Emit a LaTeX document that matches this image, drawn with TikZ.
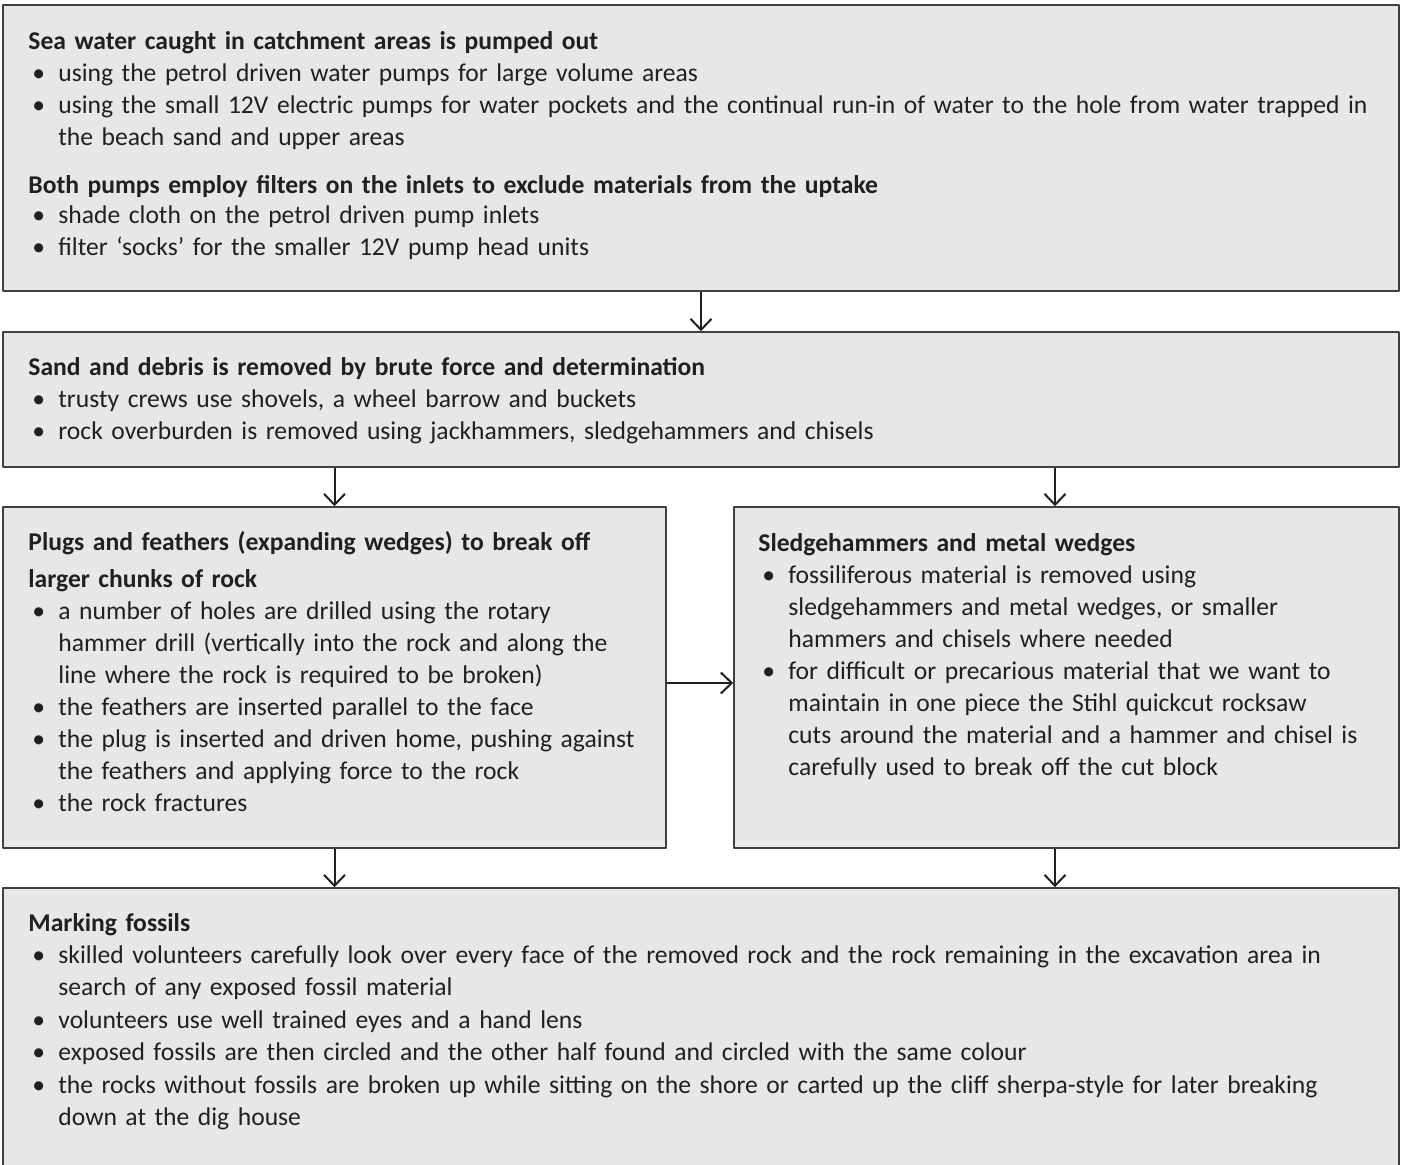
\documentclass[tikz,border=0pt]{standalone}
\usepackage{fontspec}
\setmainfont{Carlito}
\usetikzlibrary{arrows.meta,fit}
\definecolor{boxfill}{HTML}{E6E7E8}
\definecolor{boxline}{HTML}{404041}
\definecolor{ink}{HTML}{231F20}
\newcommand\bul{\makebox[15pt][l]{\hspace{2pt}\textbullet}}
\newcommand\ind{\hspace*{15pt}}
\begin{document}
\begin{tikzpicture}[x=0.5pt, y=-0.5pt, line join=round, >={Straight Barb[length=5.5pt,width=10.5pt]},
    box/.style={draw=boxline, fill=boxfill, line width=0.75pt, inner sep=0pt},
    txt/.style={anchor=base west, inner sep=0pt, text width=690pt, align=left, text=ink,
      font=\fontsize{12.8}{16}\selectfont},
    flow/.style={->, draw=ink, line width=1pt}]
  \useasboundingbox (0,0) rectangle (1401,1165);
  % boxes
  \node[box, fit={(3,5)(1399,291)}] (pump) {};
  \node[box, fit={(3,332)(1399,467)}] (sand) {};
  \node[box, fit={(3,507)(666,848)}] (plugs) {};
  \node[box, fit={(734,507)(1399,848)}] (sledge) {};
  \node[box, fit={(3,888)(1399,1180)}] (marking) {};
  % texts
  \node[txt] (pumptxt) at (28,50) {\textbf{Sea water caught in catchment areas is pumped out}\\
    \bul using the petrol driven water pumps for large volume areas\\
    \bul using the small 12V electric pumps for water pockets and the continual run-in of water to the hole from water trapped in\\
    \ind the beach sand and upper areas\\[8pt]
    \textbf{Both pumps employ filters on the inlets to exclude materials from the uptake}\\[-1pt]
    \bul shade cloth on the petrol driven pump inlets\\
    \bul filter ‘socks’ for the smaller 12V pump head units};
  \node[txt] (sandtxt) at (28,376) {\textbf{Sand and debris is removed by brute force and determination}\\
    \bul trusty crews use shovels, a wheel barrow and buckets\\
    \bul rock overburden is removed using jackhammers, sledgehammers and chisels};
  \node[txt] (plugstxt) at (28,550) {\textbf{Plugs and feathers (expanding wedges) to break off}\\[2.5pt]
    \textbf{larger chunks of rock}\\
    \bul a number of holes are drilled using the rotary\\
    \ind hammer drill (vertically into the rock and along the\\
    \ind line where the rock is required to be broken)\\
    \bul the feathers are inserted parallel to the face\\
    \bul the plug is inserted and driven home, pushing against\\
    \ind the feathers and applying force to the rock\\
    \bul the rock fractures};
  \node[txt] (sledgetxt) at (758,551) {\textbf{Sledgehammers and metal wedges}\\
    \bul fossiliferous material is removed using\\
    \ind sledgehammers and metal wedges, or smaller\\
    \ind hammers and chisels where needed\\
    \bul for difficult or precarious material that we want to\\
    \ind maintain in one piece the Stihl quickcut rocksaw\\
    \ind cuts around the material and a hammer and chisel is\\
    \ind carefully used to break off the cut block};
  \node[txt, font=\fontsize{12.8}{16.2}\selectfont] (markingtxt) at (28,931) {\textbf{Marking fossils}\\
    \bul skilled volunteers carefully look over every face of the removed rock and the rock remaining in the excavation area in\\
    \ind search of any exposed fossil material\\
    \bul volunteers use well trained eyes and a hand lens\\
    \bul exposed fossils are then circled and the other half found and circled with the same colour\\
    \bul the rocks without fossils are broken up while sitting on the shore or carted up the cliff sherpa-style for later breaking\\
    \ind down at the dig house};
  % connectors
  \coordinate (colR) at (1055,0);
  \coordinate (midrow) at (0,683);
  \draw[flow] (pump.south) -- (sand.north);
  \draw[flow] (sand.south -| plugs.north) -- (plugs.north);
  \draw[flow] (sand.south -| colR) -- (sledge.north -| colR);
  \draw[flow] (plugs.east |- midrow) -- (sledge.west |- midrow);
  \draw[flow] (plugs.south) -- (marking.north -| plugs.south);
  \draw[flow] (sledge.south -| colR) -- (marking.north -| colR);
\end{tikzpicture}
\end{document}
